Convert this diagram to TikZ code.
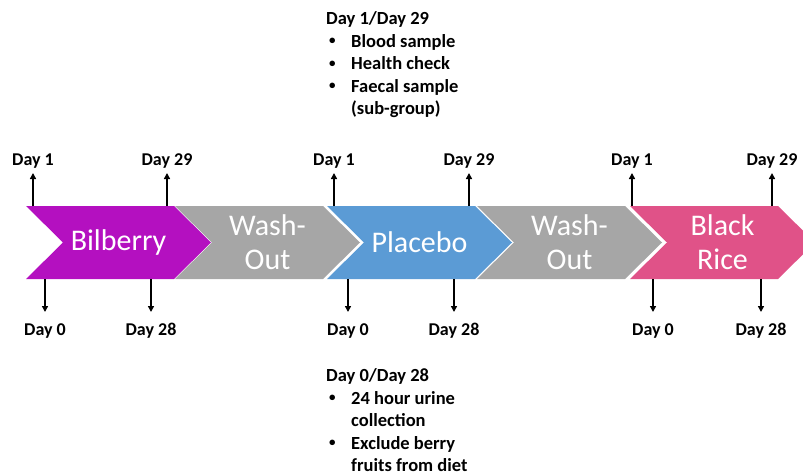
\documentclass[tikz,border=0pt]{standalone}
\usepackage{fontspec}
\setmainfont{Carlito}
\usetikzlibrary{positioning,arrows.meta}
\definecolor{bilberry}{RGB}{180,16,192}
\definecolor{washgrey}{RGB}{166,166,166}
\definecolor{placeblue}{RGB}{91,155,213}
\definecolor{ricepink}{RGB}{224,82,136}
\newcommand{\smallbul}{\hspace{3pt}\raisebox{2.5pt}{\fontsize{13}{13}\selectfont\textbullet}}
\tikzset{
  phase/.style ={text=white, align=center, font=\fontsize{30}{34}\selectfont, inner sep=0pt},
  daylab/.style={font=\fontsize{18}{20}\selectfont\bfseries, inner sep=4pt},
  tick/.style  ={-{Triangle[length=6pt,width=6pt]}, line width=1.7pt},
  notes/.style ={font=\fontsize{18.5}{22.5}\selectfont\bfseries, align=left, anchor=north west, inner sep=0pt},
}

\begin{document}
\begin{tikzpicture}[x=1pt,y=1pt]
\useasboundingbox (0,0) rectangle (803,475);
\clip (0,0) rectangle (803,475);
% the five phases
\foreach \s/\col/\nm/\txt in {26/bilberry/bil/Bilberry, 175/washgrey/woa/{Wash-\\Out},
    327/placeblue/pla/Placebo, 477/washgrey/wob/{Wash-\\Out}, 630/ricepink/ric/{Black\\Rice}} {
  \fill[\col] (\s,269) -- ++(148,0) -- ++(37,-36.5) -- ++(-37,-36.5) -- ++(-148,0)
     -- ++(37,36.5) -- cycle;
  \node[phase] (\nm) at (\s+92.5,232.5) {\txt};
}
% visits above the band
\foreach \x/\nm/\txt in {33/ua/Day 1, 167/ub/Day 29, 334/uc/Day 1, 469/ud/Day 29, 632/ue/Day 1, 772/uf/Day 29} {
  \coordinate (\nm-base) at (\x,269);
  \node[daylab, above=33pt of \nm-base] (\nm) {\txt};
  \draw[tick] (\nm-base) -- (\nm);
}
% visits below the band
\foreach \x/\nm/\txt in {45/da/Day 0, 151/db/Day 28, 348/dc/Day 0, 454/dd/Day 28, 653/de/Day 0, 761/df/Day 28} {
  \coordinate (\nm-base) at (\x,196);
  \node[daylab, below=40pt of \nm-base] (\nm) {\txt};
  \draw[tick, shorten >=7pt] (\nm-base) -- (\nm);
}
\node[notes] (visit) at (326,466) {\begin{tabular}{@{}p{25pt}@{}l@{}}
  \multicolumn{2}{@{}l@{}}{Day 1/Day 29}\\
  \smallbul & Blood sample\\
  \smallbul & Health check\\
  \smallbul & Faecal sample\\
   & (sub-group)
\end{tabular}};
\node[notes] (prep) at (326,109) {\begin{tabular}{@{}p{25pt}@{}l@{}}
  \multicolumn{2}{@{}l@{}}{Day 0/Day 28}\\
  \smallbul & 24 hour urine\\
   & collection\\
  \smallbul & Exclude berry\\
   & fruits from diet
\end{tabular}};
\end{tikzpicture}
\end{document}
